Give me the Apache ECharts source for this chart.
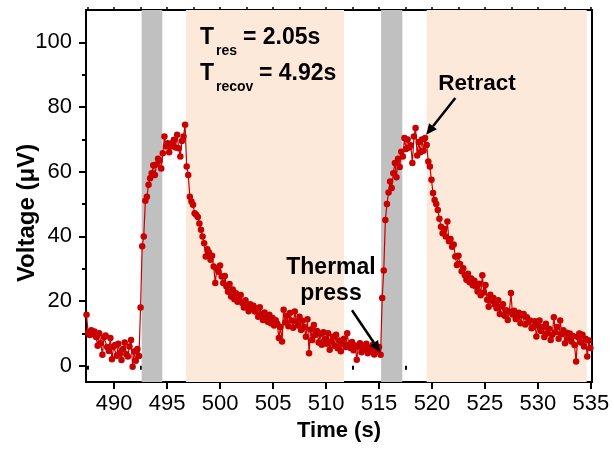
<!DOCTYPE html>
<html>
<head>
<meta charset="utf-8">
<script src="https://cdn.jsdelivr.net/npm/echarts@6/dist/echarts.min.js"></script>
<style>
  html, body { margin: 0; padding: 0; background: #fff; }
  #chart { width: 614px; height: 450px; }
</style>
</head>
<body>
<div id="chart"></div>
<script>
// Sampling of the voltage trace
const sampleStart = 487.4;   // s
const samplePeriod = 0.15;   // s

// Voltage (µV), in acquisition order
const baselineBefore = [15.8, 10.2, 9.5, 11.0, 9.8, 10.6, 8.9, 6.2, 10.1, 7.0,
  3.4, 8.8, 9.4, 5.8, 4.6, 8.6, 2.0, 5.9, 6.4, 3.1,
  6.8, 4.0, 1.8, 5.2, 7.2, 3.6, 2.9, 6.0, 8.0, -0.3,
  4.4, 1.6, 5.2, 3.0];
const pressOne = [18.0, 37.0, 40.0, 51.0, 52.3, 56.0, 58.0, 59.5, 62.0, 59.0,
  62.2, 64.0, 63.5, 61.0, 65.7, 70.9, 67.8, 68.8, 66.0, 67.8,
  69.0, 69.9, 67.5, 71.4, 67.3, 64.7, 69.5, 70.9, 74.5, 61.6,
  59.0, 52.3];
const recoveryOne = [50.8, 49.8, 47.2, 46.7, 46.0, 44.0, 42.1, 40.0, 37.9, 33.8,
  36.0, 35.0, 32.8, 34.0, 30.7, 25.6, 30.0, 29.1, 31.0, 27.6,
  25.6, 27.8, 24.5, 22.9, 25.3, 21.4, 23.6, 20.6, 22.4, 19.8,
  20.6, 21.9, 19.4, 18.0, 20.3, 18.3, 16.9, 19.0, 17.9, 18.6,
  16.8, 17.7, 15.2, 18.1, 16.0, 14.2, 16.5, 15.0, 13.6, 15.8,
  13.2, 14.8, 12.5, 14.1, 13.0, 8.6, 12.0, 7.5, 17.3, 13.4,
  15.5, 12.2, 16.3, 14.0, 11.8, 16.8, 13.7, 12.5, 15.2, 11.1,
  13.9, 12.0, 9.0, 14.4, 3.9, 11.2, 8.0, 12.6, 9.6, 10.8,
  7.2, 9.9, 6.5, 10.4, 8.3, 6.8, 10.1, 5.0, 7.6, 9.0,
  6.2, 9.6, 5.4, 7.8, 4.5, 6.9, 8.4, 5.8, 10.1, 6.6,
  5.5, 7.4, 4.8, 6.3, 1.9, 5.9, 7.0, 4.2, 6.1, 5.0,
  6.8, 3.9, 5.6, 4.6, 6.4, 3.5, 5.2, 4.4, 5.8, 3.4];
const pressTwo = [21.0, 29.5, 45.1, 50.0, 53.6, 57.0, 55.0, 59.5, 62.7, 58.3,
  64.0, 61.5, 66.2, 64.7, 70.4, 67.0, 70.0, 67.5, 68.2, 62.7,
  70.9, 73.5, 65.0, 69.2, 66.0, 70.0, 66.5, 70.4, 68.3];
const recoveryTwo = [63.2, 61.6, 57.5, 53.4, 51.3, 50.0, 48.2, 45.5, 43.0, 41.0,
  42.3, 40.0, 44.6, 38.5, 39.2, 36.8, 37.5, 33.8, 31.2, 34.0,
  31.5, 29.2, 30.2, 28.0, 26.6, 28.5, 25.8, 27.0, 24.9, 26.3,
  24.5, 23.0, 25.4, 21.8, 28.0, 22.7, 25.0, 20.4, 18.3, 22.0,
  20.1, 21.0, 18.9, 17.8, 20.3, 16.0, 18.4, 19.0, 15.5, 17.2,
  14.2, 16.8, 22.5, 15.9, 17.0, 14.5, 15.0, 16.4, 13.2, 15.6,
  16.0, 12.8, 15.0, 13.5, 14.0, 11.6, 12.0, 13.8, 9.1, 12.4,
  14.0, 10.8, 12.0, 8.9, 13.0, 10.0, 11.5, 8.0, 9.6, 15.0,
  10.4, 12.0, 8.4, 14.0, 9.8, 11.0, 7.0, 10.2, 8.6, 10.0,
  7.5, 9.2, 6.4, 1.3, 8.9, 10.0, 7.2, 9.6, 6.0, 8.4,
  2.9, 7.8, 5.5];

// Shaded windows (s): pressing and recovery phases
const pressWindows = [[492.6, 494.55], [515.2, 517.2]];
const recoveryWindows = [[496.8, 511.7], [519.5, 534.6]];

// Axis ticks
const timeTicks = [490, 495, 500, 505, 510, 515, 520, 525, 530, 535];
const timeMinorTicks = [487.5, 492.5, 497.5, 502.5, 507.5, 512.5, 517.5, 522.5, 527.5, 532.5];
const voltageTicks = [0, 20, 40, 60, 80, 100];
const voltageMinorTicks = [10, 30, 50, 70, 90];

// Arrow annotations: [tail time, tail voltage, tip time, tip voltage]
const retractArrow = [522.2, 82.8, 519.45, 71.4];
const pressArrow = [512.45, 17.2, 515.1, 4.3];

const FONT = 'Liberation Sans, Arial, Helvetica, sans-serif';
const RED = '#c80000';

const voltage = [].concat(baselineBefore, pressOne, recoveryOne, pressTwo, recoveryTwo);
const points = voltage.map((v, i) => [+(sampleStart + i * samplePeriod).toFixed(2), v]);

const bands = [];
pressWindows.forEach(w => bands.push([{ xAxis: w[0], itemStyle: { color: '#c0c0c0' } }, { xAxis: w[1] }]));
recoveryWindows.forEach(w => bands.push([{ xAxis: w[0], itemStyle: { color: '#fde9d9' } }, { xAxis: w[1] }]));

const X_MIN = 487.35, X_MAX = 535.1, Y_MIN = -5, Y_MAX = 110;
const axisLine = { show: true, onZero: false, lineStyle: { color: '#000', width: 2 } };

const chart = echarts.init(document.getElementById('chart'), null, { renderer: 'canvas' });
chart.setOption({
  animation: false,
  backgroundColor: '#fff',
  grid: { left: 86, right: 22, top: 10, bottom: 68 },
  xAxis: [
    {
      type: 'value', position: 'bottom', min: X_MIN, max: X_MAX,
      axisLine: axisLine,
      axisTick: { show: true, customValues: timeTicks, length: 7, lineStyle: { color: '#000', width: 2 } },
      axisLabel: { customValues: timeTicks, color: '#000', fontSize: 22, fontFamily: FONT, margin: 11 },
      splitLine: { show: false },
      name: 'Time (s)', nameLocation: 'middle', nameGap: 37,
      nameTextStyle: { color: '#000', fontSize: 22, fontWeight: 'bold', fontFamily: FONT }
    },
    {
      type: 'value', position: 'bottom', min: X_MIN, max: X_MAX,
      axisLine: { show: false },
      axisTick: { show: true, customValues: timeMinorTicks, length: 4, lineStyle: { color: '#000', width: 2 } },
      axisLabel: { show: false },
      splitLine: { show: false }
    },
    {
      type: 'value', position: 'top', min: X_MIN, max: X_MAX,
      axisLine: axisLine,
      axisTick: { show: true, customValues: timeTicks.concat(timeMinorTicks), length: 3, lineStyle: { color: '#000', width: 1.5 } },
      axisLabel: { show: false },
      splitLine: { show: false }
    }
  ],
  yAxis: [
    {
      type: 'value', position: 'left', min: Y_MIN, max: Y_MAX,
      axisLine: axisLine,
      axisTick: { show: true, customValues: voltageTicks, length: 7, lineStyle: { color: '#000', width: 2 } },
      axisLabel: { customValues: voltageTicks, color: '#000', fontSize: 22, fontFamily: FONT, margin: 14 },
      splitLine: { show: false }
    },
    {
      type: 'value', position: 'left', min: Y_MIN, max: Y_MAX,
      axisLine: { show: false },
      axisTick: { show: true, customValues: voltageMinorTicks, length: 4, lineStyle: { color: '#000', width: 2 } },
      axisLabel: { show: false },
      splitLine: { show: false }
    },
    {
      type: 'value', position: 'right', min: Y_MIN, max: Y_MAX,
      axisLine: axisLine,
      axisTick: { show: false },
      axisLabel: { show: false },
      splitLine: { show: false }
    }
  ],
  series: [
    {
      name: 'windows', type: 'line', data: [], xAxisIndex: 0, yAxisIndex: 0, z: 1,
      markArea: { silent: true, data: bands }
    },
    {
      name: 'Voltage', type: 'line', data: points, xAxisIndex: 0, yAxisIndex: 0, z: 5,
      symbol: 'circle', symbolSize: 6.5, showAllSymbol: true,
      lineStyle: { color: RED, width: 1.2 },
      itemStyle: { color: RED }
    }
  ]
});

function arrowGraphic(a) {
  const tail = chart.convertToPixel({ xAxisIndex: 0, yAxisIndex: 0 }, [a[0], a[1]]);
  const tip = chart.convertToPixel({ xAxisIndex: 0, yAxisIndex: 0 }, [a[2], a[3]]);
  const dx = tip[0] - tail[0], dy = tip[1] - tail[1];
  const len = Math.sqrt(dx * dx + dy * dy);
  const ux = dx / len, uy = dy / len;
  const headLen = 11, headHalf = 5;
  const bx = tip[0] - ux * headLen, by = tip[1] - uy * headLen;
  return [
    { type: 'line', z: 20, shape: { x1: tail[0], y1: tail[1], x2: bx, y2: by },
      style: { stroke: '#000', lineWidth: 2.5 } },
    { type: 'polygon', z: 20, shape: { points: [
        [tip[0], tip[1]],
        [bx - uy * headHalf, by + ux * headHalf],
        [bx + uy * headHalf, by - ux * headHalf]
      ] }, style: { fill: '#000' } }
  ];
}

function label(text, x, y, size, align) {
  return { type: 'text', z: 20, x: x, y: y,
    style: { text: text, fill: '#000', fontSize: size, fontWeight: 'bold', fontFamily: FONT,
      align: align || 'left', verticalAlign: 'middle' } };
}

chart.setOption({
  graphic: [
    { type: 'text', z: 20, x: 27, y: 213, rotation: Math.PI / 2,
      style: { text: 'Voltage (μV)', fill: '#000', fontSize: 24, fontWeight: 'bold', fontFamily: FONT,
        align: 'center', verticalAlign: 'middle' } },
    label('T', 200, 38, 23),
    label('res', 216, 51, 14),
    label('= 2.05s', 243, 38, 23),
    label('T', 200, 74, 23),
    label('recov', 216, 87, 14),
    label('= 4.92s', 259, 74, 23),
    label('Retract', 477, 84, 22.5, 'center'),
    label('Thermal', 331, 268, 23, 'center'),
    label('press', 331, 294, 23, 'center')
  ].concat(arrowGraphic(retractArrow), arrowGraphic(pressArrow))
});
</script>
</body>
</html>
